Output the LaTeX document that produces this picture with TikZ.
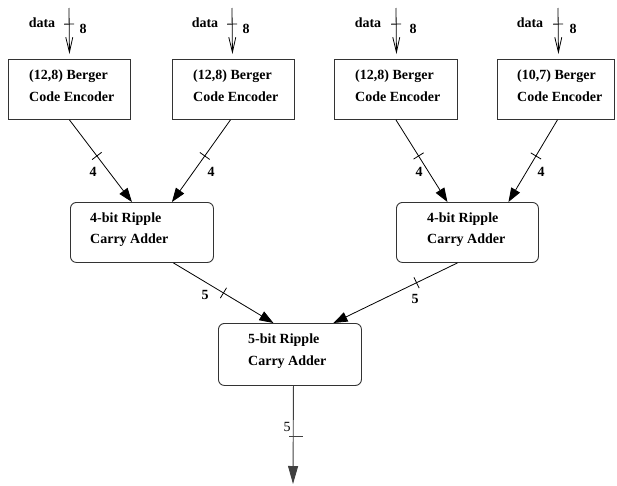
\documentclass[tikz,border=0pt]{standalone}
\usepackage{fontspec}
\setmainfont{Liberation Serif}
\usetikzlibrary{arrows.meta,decorations.markings}
\tikzset{
  blk/.style={draw=black!80, line width=0.9pt, minimum width=#1, minimum height=60pt,
              anchor=north west, inner sep=0pt},
  rblk/.style={blk=#1, rounded corners=6pt},
  txt/.style={font=\fontsize{14}{16}\selectfont\bfseries, inner sep=0pt, anchor=base west},
  num/.style={font=\fontsize{14}{16}\selectfont\bfseries, inner sep=0pt},
  wire/.style={draw=black, line width=0.8pt},
  feed/.style={wire, -{Triangle[length=14pt,width=10pt]}},
  inlet/.style={wire, -{Straight Barb[length=15pt,width=7pt]}},
  tickat/.style={postaction={decorate}, decoration={markings,
      mark=at position #1 with {\draw[arrows=-, line width=0.8pt] (0,-6pt) -- (0,6pt);}}},
  vtickat/.style={postaction={decorate}, decoration={markings,
      mark=at position #1 with {\draw[arrows=-, line width=0.8pt] (0,-5pt) -- (0,5pt);}}}
}
\begin{document}
\begin{tikzpicture}[x=1pt, y=-1pt]
\useasboundingbox (0,0) rectangle (617,485);

% encoders
\node[blk=122pt] (enc1) at (8,59) {};
\node[blk=122pt] (enc2) at (172,59) {};
\node[blk=123pt] (enc3) at (334,59) {};
\node[blk=117pt] (enc4) at (497,59) {};
\node[txt] (e1a) at (29,79) {(12,8) Berger};
\node[txt] (e1b) at (29,101) {Code Encoder};
\node[txt] (e2a) at (193,79) {(12,8) Berger};
\node[txt] (e2b) at (193,101) {Code Encoder};
\node[txt] (e3a) at (355,79) {(12,8) Berger};
\node[txt] (e3b) at (355,101) {Code Encoder};
\node[txt] (e4a) at (517,79) {(10,7) Berger};
\node[txt] (e4b) at (517,101) {Code Encoder};

% adders
\node[rblk=143pt] (add1) at (70,202) {};
\node[rblk=142pt] (add2) at (396,202) {};
\node[rblk=143pt, minimum height=62pt] (add3) at (218,323) {};
\node[txt] (a1a) at (90,222) {4-bit Ripple};
\node[txt] (a1b) at (90,243) {Carry Adder};
\node[txt] (a2a) at (427,222) {4-bit Ripple};
\node[txt] (a2b) at (427,243) {Carry Adder};
\node[txt] (a3a) at (248,343) {5-bit Ripple};
\node[txt] (a3b) at (248,365) {Carry Adder};

% data inputs
\coordinate (d1) at (69,8);
\coordinate (d2) at (232,8);
\coordinate (d3) at (396,8);
\coordinate (d4) at (558,8);
\draw[inlet, vtickat=0.35] (d1) -- ([yshift=5pt]enc1.north);
\draw[inlet, vtickat=0.35] (d2) -- ([xshift=-1pt,yshift=5pt]enc2.north);
\draw[inlet, vtickat=0.35] (d3) -- ([xshift=0.5pt,yshift=5pt]enc3.north);
\draw[inlet, vtickat=0.35] (d4) -- ([xshift=2.5pt,yshift=5pt]enc4.north);
\foreach \n/\x in {1/42,2/205,3/368,4/530} {
  \node[num, anchor=base] (dl\n) at (\x,27) {data};
}
\node[num, anchor=base] (w1) at (83,33) {8};
\node[num, anchor=base] (w2) at (246,33) {8};
\node[num, anchor=base] (w3) at (413,33) {8};
\node[num, anchor=base] (w4) at (573,33) {8};

% encoders to 4-bit adders
\draw[feed, tickat=0.44] (enc1.south) -- ([xshift=-10pt]add1.north);
\draw[feed, tickat=0.44] ([xshift=-3pt]enc2.south) -- ([xshift=30pt]add1.north);
\draw[feed, tickat=0.44] (enc3.south) -- ([xshift=-20pt]add2.north);
\draw[feed, tickat=0.44] ([xshift=1.5pt]enc4.south) -- ([xshift=41pt]add2.north);
\node[num] (n1) at (93,172) {4};
\node[num] (n2) at (211,172) {4};
\node[num] (n3) at (419,172) {4};
\node[num] (n4) at (541,172) {4};

% 4-bit adders to 5-bit adder
\draw[feed, tickat=0.5] ([xshift=31.5pt]add1.south) -- ([xshift=-16.5pt]add3.north);
\draw[feed, tickat=0.33] ([xshift=-10pt]add2.south) -- ([xshift=43.5pt]add3.north);
\node[num] (n5) at (205,295) {5};
\node[num] (n6) at (415,299) {5};

% output
\coordinate (out) at (293,484);
\draw[draw=black!75, line width=0.9pt, -{Triangle[length=18pt,width=10pt]}]
  ([xshift=3.5pt]add3.south) -- (out);
\draw[draw=black!75, line width=0.9pt] (289,436) -- (303,436);
\node[font=\fontsize{14}{16}\selectfont, inner sep=0pt, anchor=base] (n7) at (287,431) {5};
\end{tikzpicture}
\end{document}
